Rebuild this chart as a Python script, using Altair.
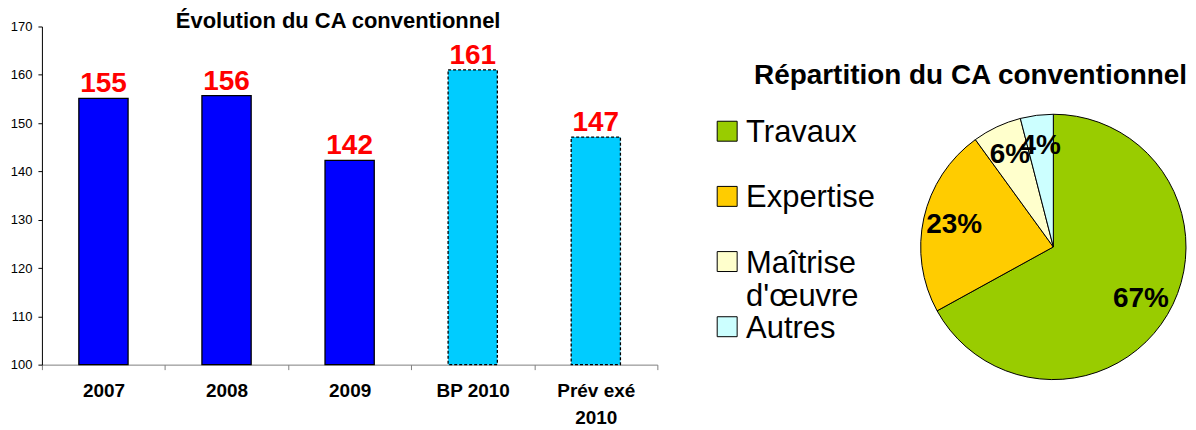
import altair as alt
import pandas as pd

# ---- data ----
years = ["2007", "2008", "2009", "BP 2010", "Prév exé 2010"]
ca_values = [155.1, 155.7, 142.3, 161.0, 147.1]
kinds = ["réalisé", "réalisé", "réalisé", "prévision", "prévision"]

pie_cats = ["Travaux", "Expertise", "Maîtrise d'œuvre", "Autres"]
pie_shares = [67, 23, 6, 4]

bar_title = "Évolution du CA conventionnel"
pie_title = "Répartition du CA conventionnel"

bar_colors = ["#0000FF", "#00CCFF"]
pie_colors = ["#99CC00", "#FFCC00", "#FFFFCC", "#CCFFFF"]
FONT = "Liberation Sans"

bars_df = pd.DataFrame({"year": years, "value": ca_values, "kind": kinds})
pie_df = pd.DataFrame({"cat": pie_cats, "share": pie_shares,
                       "idx": list(range(len(pie_cats)))})
pie_df["pct"] = pie_df["share"].astype(str) + "%"
pie_df["label"] = pie_df["cat"].str.replace(" d'", "\nd'", regex=False)

W, H = 617, 339

# ---- bar chart ----
x_enc = alt.X("year:N", sort=years,
              scale=alt.Scale(paddingInner=0, paddingOuter=0),
              axis=alt.Axis(title=None, labelAngle=0, tickBand="extent",
                            domainColor="#808080", tickColor="#808080",
                            tickSize=5, labelFontSize=19, labelFontWeight="bold",
                            labelColor="black", labelPadding=12,
                            labelLineHeight=27,
                            labelExpr="datum.label == 'Prév exé 2010' ? ['Prév exé', '2010'] : datum.label"))
y_enc = alt.Y("value:Q",
              scale=alt.Scale(domain=[100, 170], nice=False, zero=False),
              axis=alt.Axis(title=None, values=list(range(100, 171, 10)), grid=False,
                            tickSize=4, labelPadding=6, domainColor="black",
                            tickColor="black", labelFontSize=13, labelColor="black"))

base_bars = alt.Chart(bars_df).encode(x=x_enc, y=y_enc)
bars = base_bars.mark_bar(width=alt.RelativeBandSize(0.4), stroke="black",
                          strokeWidth=1.3).encode(
    y2=alt.datum(100),
    color=alt.Color("kind:N", scale=alt.Scale(domain=["réalisé", "prévision"], range=bar_colors), legend=None),
    strokeDash=alt.StrokeDash("kind:N", scale=alt.Scale(domain=["réalisé", "prévision"], range=[[1, 0], [3, 2]]), legend=None),
)
bar_labels = base_bars.mark_text(baseline="alphabetic", dy=-6, fontSize=28,
                                 fontWeight="bold", color="#FF0000").encode(
    text=alt.Text("value:Q", format=".0f"))
bar_layer = alt.layer(bars, bar_labels)

bar_title_mark = alt.Chart(pd.DataFrame({"t": [bar_title]})).mark_text(
    fontSize=22, fontWeight="bold", color="black", baseline="middle", align="center"
).encode(x=alt.value(297), y=alt.value(-5), text="t:N")

# ---- pie ----
CX, CY, R = 1014, 221, 133
pie_base = alt.Chart(pie_df).encode(
    theta=alt.Theta("share:Q", stack=True),
    order=alt.Order("idx:Q"),
    x=alt.value(CX), y=alt.value(CY),
)
pie = pie_base.mark_arc(outerRadius=R, stroke="black", strokeWidth=1).encode(
    color=alt.Color("cat:N", scale=alt.Scale(domain=pie_cats, range=pie_colors), legend=None))
pie_text = pie_base.mark_text(radius=102, fontSize=28, fontWeight="bold", color="black").encode(
    text="pct:N")
pie_layer = alt.layer(pie, pie_text)

pie_title_mark = alt.Chart(pd.DataFrame({"t": [pie_title]})).mark_text(
    fontSize=28, fontWeight="bold", color="black", baseline="middle", align="center"
).encode(x=alt.value(931), y=alt.value(50), text="t:N")

# ---- legend ----
leg_y = alt.Y("cat:N", sort=pie_cats,
              scale=alt.Scale(type="point", domain=pie_cats, range=[105, 301], padding=0),
              axis=None)
leg_sq = alt.Chart(pie_df).mark_square(size=400, stroke="black", strokeWidth=1,
                                       opacity=1).encode(
    x=alt.value(687), y=leg_y,
    color=alt.Color("cat:N", scale=alt.Scale(domain=pie_cats, range=pie_colors), legend=None))
leg_txt = alt.Chart(pie_df).mark_text(align="left", baseline="alphabetic", dy=11,
                                      fontSize=31, lineHeight=34, lineBreak="\n",
                                      color="black").encode(
    x=alt.value(706), y=leg_y, text="label:N")
legend_layer = alt.layer(leg_sq, leg_txt)

chart = alt.layer(bar_layer, bar_title_mark, pie_layer, pie_title_mark, legend_layer).resolve_scale(
    y="independent", color="independent", strokeDash="independent"
).properties(
    width=W, height=H,
    padding={"left": 2, "top": 2, "right": 0, "bottom": 0},
).configure(font=FONT).configure_view(stroke=None)

chart.save("out.html", embed_options={"renderer": "svg", "actions": False})
